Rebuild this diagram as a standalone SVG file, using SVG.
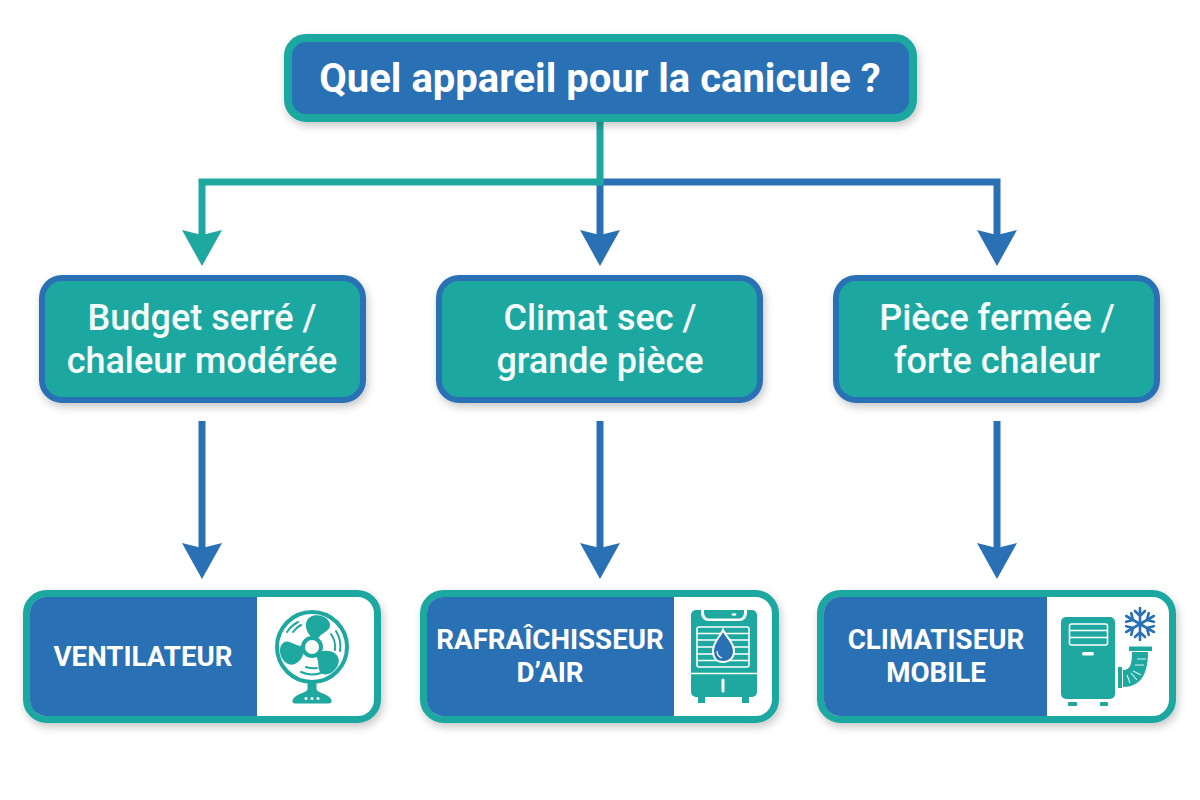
<svg xmlns="http://www.w3.org/2000/svg" width="1200" height="800" viewBox="0 0 1200 800">
<defs>
<filter id="sh" x="-10%" y="-20%" width="120%" height="145%"><feDropShadow dx="2" dy="4" stdDeviation="4" flood-color="#000" flood-opacity="0.22"/></filter>
<path id="blade" d="M0,-13 C-10,-22 -12,-36 -2,-42 C8,-47 24,-42 25,-31 C26,-22 12,-20 8,-11 Z"/>
</defs>
<style>
text{font-family:Roboto,"Liberation Sans",sans-serif;font-weight:700;text-anchor:middle}
.t{font-size:40px;fill:#fff}
.m{font-size:36px;fill:#f4fbfb;font-weight:500}
.b{font-size:27.7px;fill:#fff}
.top{fill:#2a70b5;stroke:#1fa8a0;stroke-width:8}
.mid{fill:#1fa8a0;stroke:#2a70b5;stroke-width:6}
.frame{fill:#fff;stroke:#1fa8a0;stroke-width:7}
.blue{fill:#2a70b5}
.teal{fill:#1fa8a0}
.cb{fill:none;stroke:#2a70b5;stroke-width:7;stroke-linejoin:miter}
.ct{fill:none;stroke:#1fa8a0;stroke-width:7;stroke-linejoin:miter}
.ti{fill:none;stroke:#1fa8a0;stroke-linecap:round}
</style>
<rect width="1200" height="800" fill="#fff"/>
<g id="connectors">
<path class="cb" d="M600,182H997V238"/>
<path class="cb" d="M600,182V238"/>
<path class="ct" d="M600,122V182H202V238"/>
<path class="cb" d="M202,421V550"/>
<path class="cb" d="M600,421V550"/>
<path class="cb" d="M997,421V550"/>
<g class="teal"><path d="M182,230L202,235L222,230L202,266Z"/></g>
<g class="blue">
<path d="M580,230L600,235L620,230L600,266Z"/>
<path d="M977,230L997,235L1017,230L997,266Z"/>
<path d="M182,543L202,548L222,543L202,579Z"/>
<path d="M580,543L600,548L620,543L600,579Z"/>
<path d="M977,543L997,548L1017,543L997,579Z"/>
</g>
</g>
<g id="root"><rect class="top" x="288" y="38" width="625" height="80" rx="18" filter="url(#sh)"/><text class="t" x="600" y="92">Quel appareil pour la canicule ?</text></g>
<g id="cond1"><rect class="mid" x="42" y="278" width="321" height="122" rx="20" filter="url(#sh)"/><text class="m" x="202" y="330">Budget serré /</text><text class="m" x="202" y="373">chaleur modérée</text></g>
<g id="cond2"><rect class="mid" x="439" y="278" width="321" height="122" rx="20" filter="url(#sh)"/><text class="m" x="600" y="330">Climat sec /</text><text class="m" x="600" y="373">grande pièce</text></g>
<g id="cond3"><rect class="mid" x="836" y="278" width="321" height="122" rx="20" filter="url(#sh)"/><text class="m" x="997" y="330">Pièce fermée /</text><text class="m" x="997" y="373">forte chaleur</text></g>

<g id="ventilateur">
<rect class="frame" x="26.500" y="593.500" width="351" height="126" rx="20" filter="url(#sh)"/>
<path class="blue" d="M257,597V716H46A16,16 0 0 1 30,700V613A16,16 0 0 1 46,597Z"/>
<text class="b" x="143" y="666">VENTILATEUR</text>
<g transform="translate(312,647)">
<circle r="35" fill="none" stroke="#1fa8a0" stroke-width="4"/>
<g class="teal"><use href="#blade" transform="scale(.72)"/><use href="#blade" transform="rotate(120) scale(.72)"/><use href="#blade" transform="rotate(240) scale(.72)"/></g>
<circle r="9" fill="#fff" stroke="#1fa8a0" stroke-width="4"/>
<path class="ti" stroke-width="2" d="M-25,-15A29,29 0 0 1 -14,-25M-19,-15A23,23 0 0 1 -11,-22M24,-16A29,29 0 0 1 28,4M19,-13A23,23 0 0 1 23,3M-11,25A28,28 0 0 0 9,26M-6,20A22,22 0 0 0 5,21"/>
<path class="teal" d="M-4.500,34V42C-5,45 -11,46 -16,49C-20,52 -21,56 -17,56.500H17C21,56 20,52 16,49C11,46 5,45 4.500,42V34Z"/>
<g fill="#fff"><circle cx="-6" cy="51.500" r="1.500"/><circle cy="51.500" r="1.500"/><circle cx="6" cy="51.500" r="1.500"/></g>
</g>
</g>

<g id="rafraichisseur">
<rect class="frame" x="423.500" y="593.500" width="352" height="126" rx="20" filter="url(#sh)"/>
<path class="blue" d="M674,597V716H443A16,16 0 0 1 427,700V613A16,16 0 0 1 443,597Z"/>
<text class="b" x="550" y="649">RAFRAÎCHISSEUR</text><text class="b" x="550" y="682">D’AIR</text>
<g>
<rect class="teal" x="691" y="610" width="66" height="87" rx="5"/>
<rect class="teal" x="698" y="697" width="7" height="6"/><rect class="teal" x="742" y="697" width="7" height="6"/>
<path fill="#fff" d="M701,610H747V612C747,618 744,621 739,621H709C704,621 701,618 701,612Z"/>
<path class="teal" d="M704,610H744V612C744,616 742,618.500 739,618.500H709C706,618.500 704,616 704,612Z"/>
<ellipse cx="734" cy="614.500" rx="2.500" ry="1.300" fill="#fff"/>
<rect x="697" y="627" width="52" height="40" rx="2" fill="none" stroke="#fff" stroke-width="1.600"/>
<path d="M697,633.500H749M697,640H749M697,647H749M697,654H749M697,660.500H749" stroke="#fff" stroke-width="1.600"/>
<path d="M723,630C720,637 713,642 713,651C713,658 717,662 723,662C729,662 734,658 734,651C734,642 726,637 723,630Z" fill="#2a70b5" stroke="#fff" stroke-width="2"/>
<path d="M717,651C717,655 719,657 722,658" fill="none" stroke="#fff" stroke-width="1.200"/>
<path d="M691,673.500H757" stroke="#fff" stroke-width="1.500"/>
<path d="M723,680V691" stroke="#fff" stroke-width="3" stroke-linecap="round"/>
</g>
</g>

<g id="climatiseur">
<rect class="frame" x="820.500" y="593.500" width="352" height="126" rx="20" filter="url(#sh)"/>
<path class="blue" d="M1047,597V716H840A16,16 0 0 1 824,700V613A16,16 0 0 1 840,597Z"/>
<text class="b" x="936" y="649">CLIMATISEUR</text><text class="b" x="936" y="682">MOBILE</text>
<g>
<rect class="teal" x="1061" y="617" width="54" height="82" rx="5"/>
<rect class="teal" x="1068" y="702" width="9" height="4" rx="1"/><rect class="teal" x="1100" y="702" width="8" height="4" rx="1"/>
<rect x="1069.500" y="624" width="38" height="21" rx="2" fill="none" stroke="#fff" stroke-width="1.600"/>
<path d="M1070,630.500H1107M1070,637.500H1107" stroke="#fff" stroke-width="1.600"/>
<rect x="1082" y="652" width="12" height="3.500" rx="1.500" fill="#fff"/>
<rect class="teal" x="1118" y="667" width="4" height="21"/>
<path class="teal" d="M1123,670C1130,670 1132,665 1132,652H1148C1148,675 1140,687 1123,687Z"/>
<rect class="teal" x="1129" y="646.500" width="23" height="4.500"/>
<path d="M1137,659H1146M1135,665H1144M1133,671L1141,675M1131,673L1137,680M1127,675L1130,683" stroke="#d8f2f0" stroke-width="1.100" fill="none"/>
<g transform="translate(1140,624)" stroke="#2a70b5" stroke-width="2.600" fill="none" stroke-linecap="round">
<g id="arm"><path d="M0,0V-16M-5,-13L0,-8L5,-13"/></g>
<use href="#arm" transform="rotate(60)"/><use href="#arm" transform="rotate(120)"/><use href="#arm" transform="rotate(180)"/><use href="#arm" transform="rotate(240)"/><use href="#arm" transform="rotate(300)"/>
</g>
</g>
</g>
</svg>
